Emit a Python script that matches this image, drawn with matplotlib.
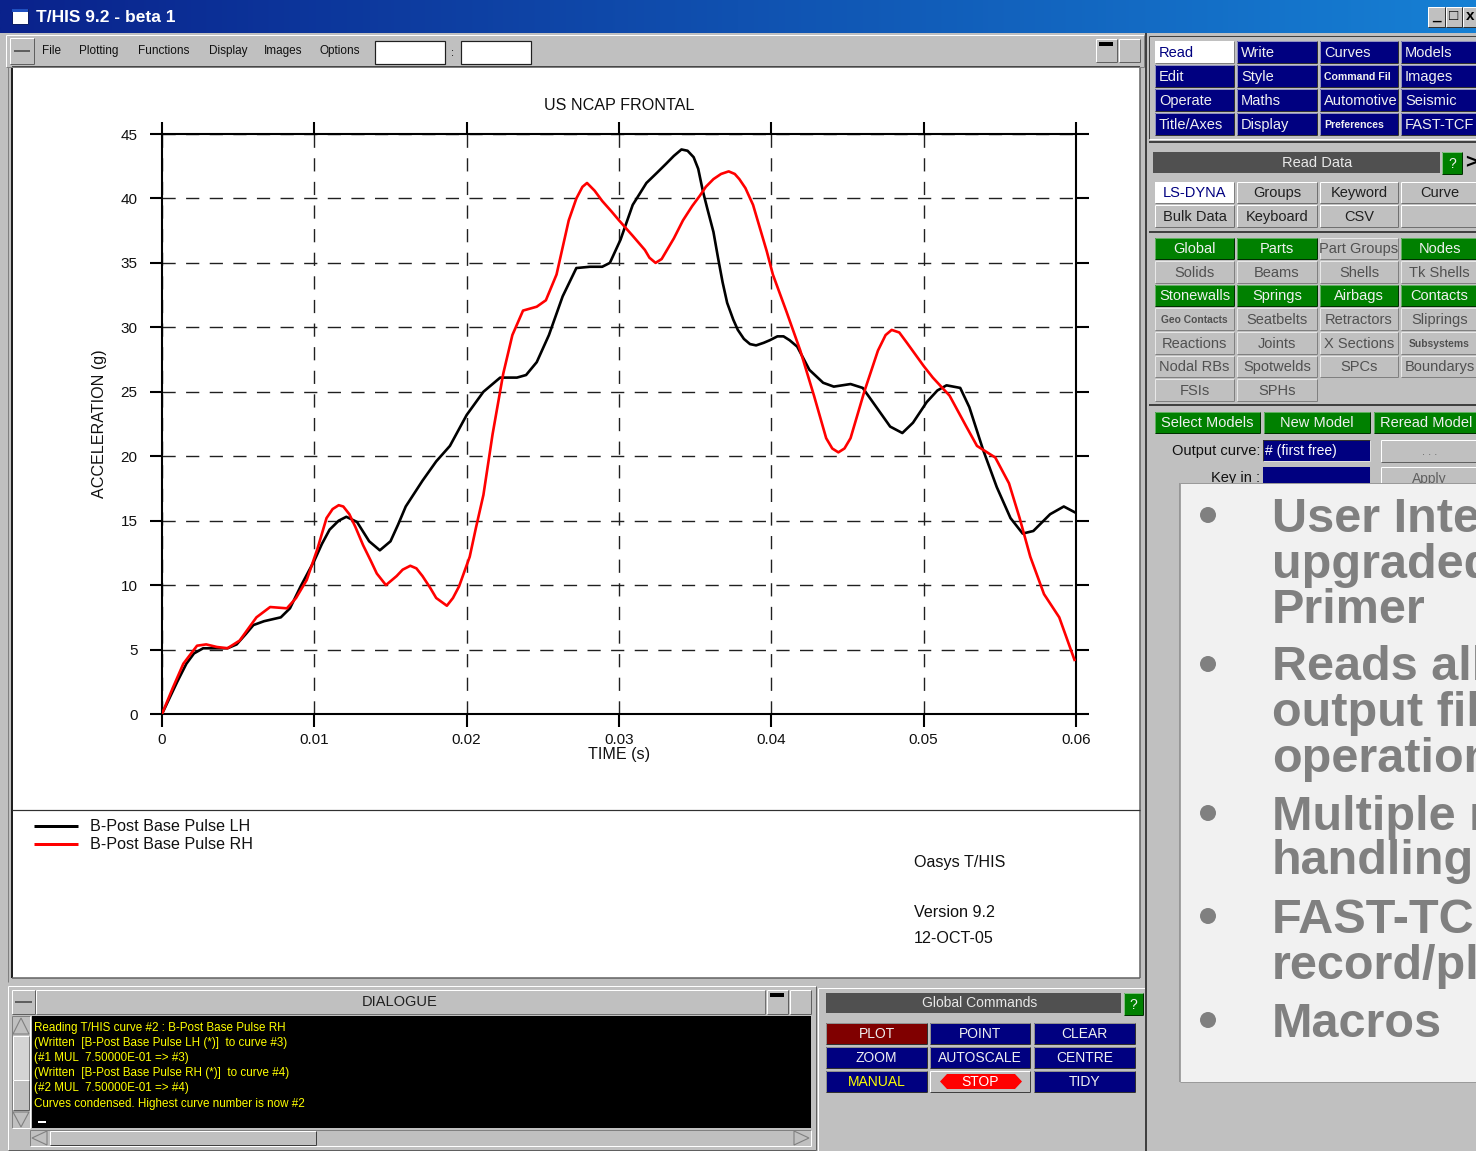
import matplotlib
matplotlib.use('Agg')
import matplotlib.pyplot as plt
from matplotlib.patches import Rectangle, Circle, Polygon
import numpy as np

plt.rcParams['font.family'] = ['Liberation Sans', 'DejaVu Sans']
plt.rcParams['lines.scale_dashes'] = False

# ---------------- data ----------------
time_lh = [0, 0.001, 0.0016, 0.0021, 0.0027, 0.0035, 0.0043, 0.0049, 0.0055, 0.006,
           0.0067, 0.0078, 0.0084, 0.0091, 0.01, 0.0105, 0.011, 0.0116, 0.0121, 0.0128,
           0.0136, 0.0143, 0.015, 0.0155, 0.016, 0.0171, 0.018, 0.0189, 0.02, 0.0211,
           0.0222, 0.0233, 0.0239, 0.0246, 0.0254, 0.0263, 0.0272, 0.0281, 0.0289, 0.0294,
           0.0301, 0.0309, 0.0318, 0.0325, 0.0331, 0.0336, 0.0341, 0.0345, 0.0349, 0.0352,
           0.0355, 0.0358, 0.0362, 0.0365, 0.0368, 0.0371, 0.0375, 0.0378, 0.0382, 0.0386,
           0.039, 0.0395, 0.0399, 0.0404, 0.0408, 0.0412, 0.0417, 0.0425, 0.0434, 0.0441,
           0.0452, 0.046, 0.0469, 0.0478, 0.0486, 0.0493, 0.0502, 0.0509, 0.0515, 0.0524,
           0.053, 0.0539, 0.0548, 0.0557, 0.0565, 0.0572, 0.0583, 0.0592, 0.06]
accel_lh = [0, 2.5, 3.9, 4.7, 5.1, 5.1, 5.1, 5.4, 6.2, 6.9,
            7.2, 7.5, 8.2, 9.9, 11.9, 13.2, 14.3, 15.0, 15.3, 14.9,
            13.4, 12.7, 13.4, 14.7, 16.1, 18.1, 19.6, 20.8, 23.2, 25.0,
            26.1, 26.1, 26.3, 27.3, 29.4, 32.4, 34.6, 34.7, 34.7, 35.0,
            36.8, 39.5, 41.2, 42.0, 42.7, 43.3, 43.8, 43.7, 43.2, 42.3,
            40.6, 39.2, 37.4, 35.4, 33.5, 31.9, 30.6, 29.8, 29.1, 28.7,
            28.6, 28.8, 29.0, 29.3, 29.3, 29.0, 28.5, 26.7, 25.7, 25.4,
            25.6, 25.3, 23.8, 22.3, 21.8, 22.6, 24.2, 25.1, 25.5, 25.3,
            23.8, 20.5, 17.6, 15.2, 14.0, 14.2, 15.5, 16.1, 15.6]

time_rh = [0, 0.0007, 0.0014, 0.0023, 0.0029, 0.0036, 0.0043, 0.0051, 0.0062, 0.0071,
           0.0082, 0.0088, 0.0095, 0.0102, 0.0108, 0.0112, 0.0116, 0.0119, 0.0123, 0.0127,
           0.0132, 0.0137, 0.0141, 0.0147, 0.0154, 0.0158, 0.0163, 0.0167, 0.0171, 0.0176,
           0.018, 0.0187, 0.0191, 0.0195, 0.0202, 0.0206, 0.0211, 0.0217, 0.0224, 0.023,
           0.0237, 0.0246, 0.0252, 0.0259, 0.0267, 0.0272, 0.0276, 0.0279, 0.0284, 0.0289,
           0.0295, 0.03, 0.0309, 0.0317, 0.032, 0.0324, 0.0328, 0.0331, 0.0336, 0.0342,
           0.0348, 0.0353, 0.0357, 0.0362, 0.0367, 0.0372, 0.0376, 0.0379, 0.0383, 0.0388,
           0.0397, 0.0401, 0.041, 0.0419, 0.0428, 0.0436, 0.044, 0.0444, 0.0448, 0.0452,
           0.0461, 0.047, 0.0475, 0.0479, 0.0484, 0.0489, 0.05, 0.0506, 0.0517, 0.0528,
           0.0535, 0.0547, 0.0556, 0.0563, 0.057, 0.0579, 0.0589, 0.0599]
accel_rh = [0, 2.0, 3.9, 5.3, 5.4, 5.2, 5.1, 5.7, 7.5, 8.3,
            8.2, 9.0, 10.4, 12.8, 15.2, 15.9, 16.2, 16.1, 15.5, 14.5,
            13.1, 11.9, 10.9, 10.0, 10.7, 11.2, 11.5, 11.3, 10.7, 9.8,
            9.0, 8.4, 9.0, 9.9, 12.2, 14.4, 17.0, 21.7, 26.4, 29.4,
            31.3, 31.6, 32.1, 34.1, 38.3, 40.0, 40.9, 41.2, 40.6, 39.8,
            39.0, 38.3, 37.1, 36.0, 35.4, 35.0, 35.3, 35.9, 36.9, 38.3,
            39.4, 40.2, 40.9, 41.5, 41.9, 42.1, 41.9, 41.5, 40.8, 39.5,
            35.9, 34.1, 31.2, 28.2, 24.7, 21.4, 20.6, 20.3, 20.6, 21.4,
            25.0, 28.2, 29.4, 29.8, 29.6, 28.8, 27.0, 26.1, 24.7, 22.3,
            20.8, 19.9, 17.9, 15.2, 12.2, 9.3, 7.5, 4.2]

x_ticks = [0, 0.01, 0.02, 0.03, 0.04, 0.05, 0.06]
x_tick_labels = ['0', '0.01', '0.02', '0.03', '0.04', '0.05', '0.06']
y_ticks = [0, 5, 10, 15, 20, 25, 30, 35, 40, 45]
y_tick_labels = ['0', '5', '10', '15', '20', '25', '30', '35', '40', '45']
series_labels = ['B-Post Base Pulse LH', 'B-Post Base Pulse RH']
series_colors = ['#000000', '#ff0000']
chart_title = 'US NCAP FRONTAL'
x_label = 'TIME (s)'
y_label = 'ACCELERATION (g)'

menu_items = ['File', 'Plotting', 'Functions', 'Display', 'Images', 'Options']
dialogue_lines = ['Reading T/HIS curve #2 : B-Post Base Pulse RH',
                  '(Written  [B-Post Base Pulse LH (*)]  to curve #3)',
                  '(#1 MUL  7.50000E-01 => #3)',
                  '(Written  [B-Post Base Pulse RH (*)]  to curve #4)',
                  '(#2 MUL  7.50000E-01 => #4)',
                  'Curves condensed. Highest curve number is now #2']
top_menu = [['Read', 'Write', 'Curves', 'Models'],
            ['Edit', 'Style', 'Command Fil', 'Images'],
            ['Operate', 'Maths', 'Automotive', 'Seismic'],
            ['Title/Axes', 'Display', 'Preferences', 'FAST-TCF']]
read_tabs = [['LS-DYNA', 'Groups', 'Keyword', 'Curve'],
             ['Bulk Data', 'Keyboard', 'CSV', '']]
data_types = [['Global', 'Parts', 'Part Groups', 'Nodes'],
              ['Solids', 'Beams', 'Shells', 'Tk Shells'],
              ['Stonewalls', 'Springs', 'Airbags', 'Contacts'],
              ['Geo Contacts', 'Seatbelts', 'Retractors', 'Sliprings'],
              ['Reactions', 'Joints', 'X Sections', 'Subsystems'],
              ['Nodal RBs', 'Spotwelds', 'SPCs', 'Boundarys'],
              ['FSIs', 'SPHs', '', '']]
data_green = [[1, 1, 0, 1], [0, 0, 0, 0], [1, 1, 1, 1], [0, 0, 0, 0],
              [0, 0, 0, 0], [0, 0, 0, 0], [0, 0, 0, 0]]
global_cmds = [['PLOT', 'POINT', 'CLEAR'],
               ['ZOOM', 'AUTOSCALE', 'CENTRE'],
               ['MANUAL', 'STOP', 'TIDY']]
slide_lines = ['User Interface', 'upgraded to match', 'Primer', 'Reads all LS-DYNA',
               'output files', 'operations', 'Multiple model', 'handling',
               'FAST-TCF', 'record/playback', 'Macros']

# ---------------- figure / helpers ----------------
W, H = 1476, 1151
fig = plt.figure(figsize=(W / 100, H / 100), dpi=100)
bg = fig.add_axes([0, 0, 1, 1])
bg.axis('off')

GREY = '#c0c0c0'
NAVY = '#000080'
GREEN = '#008000'
PX = 0.72


def rect(x0, y0, x1, y1, fc, ec='none', lw=0, z=1):
    bg.add_patch(Rectangle((x0, y0), x1 - x0, y1 - y0, facecolor=fc,
                           edgecolor=ec, linewidth=lw, zorder=z))


def line(xs, ys, c, lw=1, z=2):
    bg.plot(xs, ys, color=c, lw=lw * PX, zorder=z, solid_capstyle='butt')


def bevel(x0, y0, x1, y1, raised=True, z=3, light='#ffffff', dark='#404040'):
    a, b = (light, dark) if raised else (dark, light)
    line([x0, x1], [y0, y0], a, z=z)
    line([x0, x0], [y0, y1], a, z=z)
    line([x0, x1], [y1, y1], b, z=z)
    line([x1, x1], [y0, y1], b, z=z)


def txt(x, y, s, size=10, color='black', ha='left', va='center', weight='normal', z=6, **kw):
    bg.text(x, y, s, fontsize=size, color=color, ha=ha, va=va,
            fontweight=weight, zorder=z, **kw)


def button(x0, y0, x1, y1, label, fc, tc, size=10, ha='center', weight='normal',
           raised=True, z=2, light='#e8e8e8', dark='#404040'):
    rect(x0, y0, x1, y1, fc, z=z)
    bevel(x0, y0, x1, y1, raised, z=z + 0.5, light=light, dark=dark)
    tx = (x0 + x1) / 2 if ha == 'center' else x0 + 4
    if label:
        txt(tx, (y0 + y1) / 2 + 0.5, label, size=size, color=tc, ha=ha,
            weight=weight, z=z + 1)


# whole background
rect(0, 0, W, H, GREY, z=0)

# title bar gradient
c0 = np.array([10, 34, 140]) / 255
c1 = np.array([22, 128, 212]) / 255
g = np.linspace(0, 1, 256)[None, :, None]
grad = c0 + (c1 - c0) * g
bg.imshow(grad, extent=(0, W, 33, 0), aspect='auto', zorder=0.5, interpolation='bilinear')
rect(12, 9, 28, 24, 'white', ec='#0a1a60', lw=0.7, z=2)
rect(12, 9, 28, 12, '#2050c0', z=2.5)
txt(36, 17, 'T/HIS 9.2 - beta 1', size=12.5, color='white', weight='bold')
for x0, x1, sym in [(1428, 1445, '_'), (1446, 1462, '\u25a1'), (1463, 1478, 'x')]:
    button(x0, 7, x1, 27, '', GREY, 'black', light='#ffffff', dark='#303030')
    txt((x0 + x1) / 2, 16, sym, size=11, color='black', ha='center', weight='bold', z=5)

# ---------------- left window ----------------
rect(6, 35, 1144, 67, GREY, z=1)
bevel(6, 35, 1144, 67, True, light='#ffffff', dark='#808080')
button(10, 38, 34, 64, '', GREY, 'black', light='#ffffff', dark='#606060')
line([14, 30], [51, 51], '#404040', lw=1.5, z=4)
menu_x = [42, 79, 138, 209, 264, 320]
for mx, m in zip(menu_x, menu_items):
    txt(mx, 51, m, size=8.5, color='#101010')
for x0, x1 in [(375, 445), (461, 531)]:
    rect(x0, 41, x1, 64, 'white', ec='#202020', lw=1.2 * PX, z=2)
txt(453, 53, ':', size=8, ha='center')
button(1096, 39, 1117, 62, '', GREY, 'black', light='#ffffff', dark='#606060')
rect(1099, 42, 1113, 46, 'black', z=4)
button(1119, 39, 1140, 62, '', GREY, 'black', light='#ffffff', dark='#606060')

# plot area
rect(12, 67, 1140, 978, 'white', z=1)
line([12, 12], [67, 978], '#202020', lw=2, z=2)
line([12, 1140], [67, 67], '#202020', lw=1.5, z=2)
line([1140, 1140], [67, 978], '#606060', lw=1.5, z=2)
line([12, 1140], [978, 978], '#606060', lw=1.5, z=2)
line([8, 8], [67, 982], '#808080', lw=1, z=2)
line([12, 1140], [810, 810], '#303030', lw=1.2, z=2)

# legend / info text
for i, (lab, col) in enumerate(zip(series_labels, series_colors)):
    yy = 826 + 18 * i
    line([34, 78], [yy, yy], col, lw=3, z=3)
    txt(90, yy, lab, size=11.6, color='#101010')
txt(914, 862, 'Oasys T/HIS', size=11.6, color='#101010')
txt(914, 912, 'Version 9.2', size=11.6, color='#101010')
txt(914, 938, '12-OCT-05', size=11.6, color='#101010')

# ---------------- dialogue ----------------
rect(8, 986, 816, 1150, GREY, z=1)
bevel(8, 986, 816, 1150, True, light='#ffffff', dark='#606060')
button(12, 990, 35, 1014, '', GREY, 'black', light='#ffffff', dark='#606060')
line([15, 32], [1002, 1002], '#404040', lw=1.5, z=4)
rect(36, 990, 765, 1014, GREY, z=1.5)
bevel(36, 990, 765, 1014, True, light='#ffffff', dark='#707070')
txt(400, 1002, 'DIALOGUE', size=10.5, ha='center', color='#202020')
button(767, 990, 788, 1014, '', GREY, 'black', light='#ffffff', dark='#606060')
rect(770, 993, 784, 997, 'black', z=4)
button(790, 990, 811, 1014, '', GREY, 'black', light='#ffffff', dark='#606060')
rect(32, 1016, 811, 1128, 'black', z=2)
for i, s in enumerate(dialogue_lines):
    txt(34, 1028 + 15.1 * i, s, size=8.4, color='#ffff00')
rect(38, 1121, 46, 1123, 'white', z=4)
# vertical scroll
rect(12, 1016, 30, 1128, GREY, z=2)
bevel(12, 1016, 30, 1128, False, light='#ffffff', dark='#808080')
bg.add_patch(Polygon([[13, 1034], [21, 1018], [29, 1034]], closed=True, fc='none',
                     ec='#808080', lw=0.8, zorder=4))
button(13, 1036, 29, 1080, '', '#d4d4d4', 'black', light='#ffffff', dark='#808080')
button(13, 1080, 29, 1110, '', GREY, 'black', light='#ffffff', dark='#606060')
bg.add_patch(Polygon([[13, 1112], [21, 1127], [29, 1112]], closed=True, fc='none',
                     ec='#808080', lw=0.8, zorder=4))
# horizontal scroll
rect(30, 1130, 811, 1146, GREY, z=2)
bevel(30, 1130, 811, 1146, False, light='#ffffff', dark='#808080')
bg.add_patch(Polygon([[47, 1131], [32, 1138], [47, 1145]], closed=True, fc='none',
                     ec='#808080', lw=0.8, zorder=4))
button(50, 1131, 316, 1145, '', GREY, 'black', light='#ffffff', dark='#404040')
bg.add_patch(Polygon([[794, 1131], [809, 1138], [794, 1145]], closed=True, fc='none',
                     ec='#808080', lw=0.8, zorder=4))

# ---------------- global commands ----------------
bevel(818, 988, 1146, 1151, True, light='#ffffff', dark='#606060')
rect(826, 993, 1121, 1013, '#505050', z=2)
txt(980, 1003, 'Global Commands', size=10, color='#e8e8e8', ha='center')
button(1124, 993, 1143, 1015, '?', GREEN, '#f0f0f0', size=10, light='#80c080', dark='#003000')
gc_cols = [(826, 927), (930, 1030), (1034, 1135)]
gc_rows = [(1023, 1044), (1047, 1068), (1071, 1092)]
for r, row in enumerate(global_cmds):
    for c, lab in enumerate(row):
        x0, x1 = gc_cols[c]
        y0, y1 = gc_rows[r]
        if lab == 'PLOT':
            button(x0, y0, x1, y1, lab, '#800000', '#f0f0f0', size=10, light='#909090', dark='#303030')
        elif lab == 'STOP':
            button(x0, y0, x1, y1, '', GREY, 'white', light='#ffffff', dark='#404040')
            bg.add_patch(Polygon([[940, 1081.5], [947, 1074], [1015, 1074], [1022, 1081.5],
                                  [1015, 1089], [947, 1089]], closed=True, fc='#ff0000',
                                 ec='none', zorder=4))
            txt((x0 + x1) / 2, (y0 + y1) / 2 + 0.5, lab, size=10, color='white', ha='center', z=5)
        elif lab == 'MANUAL':
            button(x0, y0, x1, y1, lab, NAVY, '#ffff00', size=10, light='#909090', dark='#303030')
        else:
            button(x0, y0, x1, y1, lab, NAVY, '#f0f0f0', size=10, light='#909090', dark='#303030')

# ---------------- right panel ----------------
line([1146, 1146], [33, H], '#404040', lw=2, z=3)
bevel(1149, 36, 1478, 139, False, light='#ffffff', dark='#404040')
tm_cols = [(1155, 1234), (1237, 1317), (1320, 1398), (1401, 1478)]
tm_rows = [(41, 63), (65, 87), (89, 111), (113, 135)]
for r, row in enumerate(top_menu):
    for c, lab in enumerate(row):
        x0, x1 = tm_cols[c]
        y0, y1 = tm_rows[r]
        small = lab in ('Command Fil', 'Preferences')
        if lab == 'Read':
            button(x0, y0, x1, y1, lab, 'white', NAVY, size=10.5, ha='left',
                   light='#ffffff', dark='#808080')
        else:
            button(x0, y0, x1, y1, lab, NAVY, '#f0f0f0', size=7.6 if small else 10.5,
                   ha='left', weight='bold' if small else 'normal',
                   light='#9090c0', dark='#303030')
line([1149, W], [142, 142], '#404040', lw=2, z=3)

rect(1153, 152, 1440, 173, '#505050', z=2)
txt(1317, 162.5, 'Read Data', size=10.5, color='#e8e8e8', ha='center')
button(1442, 152, 1462, 174, '?', GREEN, '#f0f0f0', size=10, light='#80c080', dark='#003000')
txt(1465, 163, '>', size=15, color='black', ha='left', weight='bold')

rt_rows = [(182, 203), (205, 227)]
for r, row in enumerate(read_tabs):
    for c, lab in enumerate(row):
        x0, x1 = tm_cols[c]
        y0, y1 = rt_rows[r]
        if lab == 'LS-DYNA':
            button(x0, y0, x1, y1, lab, 'white', NAVY, size=10.5, light='#ffffff', dark='#808080')
        elif lab:
            button(x0, y0, x1, y1, lab, GREY, '#202020', size=10.5,
                   light='#ffffff', dark='#707070')
        else:
            button(x0, y0, x1, y1, '', GREY, '#202020', light='#ffffff', dark='#707070')
line([1149, W], [232, 232], '#404040', lw=2, z=3)

dt_rows = [(238, 259), (261, 283), (285, 306), (308, 330), (332, 354), (356, 377), (379, 401)]
for r, row in enumerate(data_types):
    for c, lab in enumerate(row):
        if not lab:
            continue
        x0, x1 = tm_cols[c]
        y0, y1 = dt_rows[r]
        small = lab in ('Geo Contacts', 'Subsystems')
        if data_green[r][c]:
            button(x0, y0, x1, y1, lab, GREEN, '#f0f0f0', size=10.5,
                   light='#60b060', dark='#003000')
        else:
            button(x0, y0, x1, y1, lab, GREY, '#505050', size=7.4 if small else 10.5,
                   weight='bold' if small else 'normal', light='#e8e8e8', dark='#808080')
line([1149, W], [405, 405], '#404040', lw=2, z=3)

for (x0, x1), lab in zip([(1155, 1260), (1264, 1370), (1374, 1478)],
                         ['Select Models', 'New Model', 'Reread Model']):
    button(x0, 412, x1, 433, lab, GREEN, '#f0f0f0', size=10.5, light='#60b060', dark='#003000')

txt(1260, 451, 'Output curve:', size=10.5, ha='right', color='#101010')
rect(1263, 440, 1370, 461, NAVY, z=2)
bevel(1263, 440, 1370, 461, False, light='#e0e0e0', dark='#303030')
txt(1265, 451, '# (first free)', size=10, color='white')
button(1381, 440, 1478, 462, '. . .', GREY, '#606060', size=8, light='#ffffff', dark='#606060')
txt(1260, 478, 'Key in :', size=10.5, ha='right', color='#101010')
rect(1263, 467, 1370, 489, NAVY, z=2)
button(1381, 467, 1478, 489, 'Apply', GREY, '#606060', size=10, light='#ffffff', dark='#606060')

# overlay slide panel
rect(1180, 483, 1480, 1082, '#f1f1f1', z=10)
line([1180, 1180], [483, 1082], '#8a8a8a', lw=1.5, z=11)
line([1180, 1480], [483, 483], '#9a9a9a', lw=1, z=11)
line([1180, 1480], [1082, 1082], '#9a9a9a', lw=1, z=11)
slide_base = [532, 578, 623, 680, 726, 772, 830, 874, 933, 979, 1037]
for s, yb in zip(slide_lines, slide_base):
    txt(1272, yb, s, size=35, color='#808080', weight='bold', va='baseline', z=12)
for yb in [515, 664, 813, 916, 1020]:
    bg.add_patch(Circle((1208, yb), 8, fc='#808080', ec='none', zorder=12))

bg.set_xlim(0, W)
bg.set_ylim(H, 0)

# ---------------- the chart ----------------
L, R, T, B = 162, 1076, 134, 714
ax = fig.add_axes([L / W, (H - B) / H, (R - L) / W, (B - T) / H])
ax.set_facecolor('none')
ax.plot(time_lh, accel_lh, color=series_colors[0], lw=1.9, zorder=3,
        solid_joinstyle='round')
ax.plot(time_rh, accel_rh, color=series_colors[1], lw=1.9, zorder=3,
        solid_joinstyle='round')
ax.set_xlim(0, 0.06)
ax.set_ylim(0, 45)
ax.set_xticks(x_ticks)
ax.set_xticklabels(x_tick_labels)
ax.set_yticks(y_ticks)
ax.set_yticklabels(y_tick_labels)
ax.grid(True, color='#202020', lw=1.0, linestyle=(0, (9.5, 7.5)))
for sp in ax.spines.values():
    sp.set_linewidth(1.5)
    sp.set_color('black')
ax.tick_params(axis='both', which='both', direction='out', length=9, width=1.5,
               top=True, right=True, labelsize=11, labelcolor='#101010')
ax.tick_params(axis='y', pad=8.5)
ax.tick_params(axis='x', pad=5)
ax.set_title(chart_title, fontsize=11.6, color='#101010', pad=17)
ax.set_xlabel(x_label, fontsize=11.6, color='#101010')
ax.xaxis.set_label_coords(0.5, -0.057)
ax.set_ylabel(y_label, fontsize=11.6, color='#101010')
ax.yaxis.set_label_coords(-0.060, 0.5)

fig.savefig('out.png', dpi=100)
